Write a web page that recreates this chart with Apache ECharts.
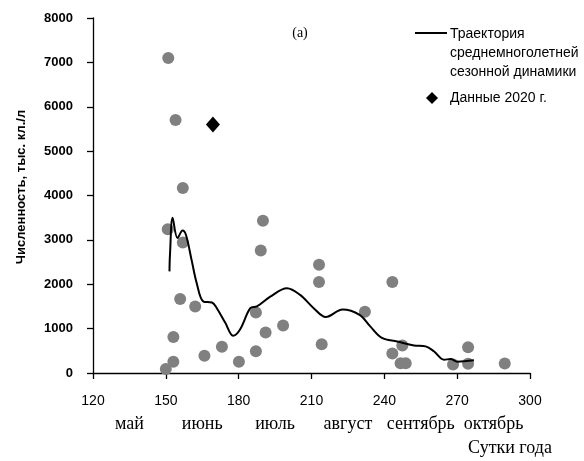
<!DOCTYPE html>
<html>
<head>
<meta charset="utf-8">
<script src="https://cdn.jsdelivr.net/npm/echarts@6/dist/echarts.min.js"></script>
<style>
  html, body { margin: 0; padding: 0; background: #fff; }
  #chart { width: 584px; height: 461px; }
</style>
</head>
<body>
<div id="chart"></div>
<script>
// Long-term mean seasonal trajectory (day of year -> abundance)
var trajDays = [151.5, 151.7, 152.8, 154.8, 156.9, 158.3, 160.6, 162.7, 165.5, 169.0, 171.0, 174.5, 177.7, 180.5, 184.8, 187.5, 193.0, 199.9, 205.3, 210.9, 215.9, 222.8, 229.8, 234.2, 239.0, 245.3, 252.2, 257.0, 260.4, 264.6, 267.3, 270.1, 276.9];
var trajValues = [2290, 2660, 3500, 3040, 3210, 3110, 2550, 2030, 1610, 1590, 1460, 1130, 840, 975, 1460, 1500, 1720, 1910, 1760, 1460, 1260, 1430, 1310, 1050, 790, 710, 620, 600, 490, 300, 315, 255, 285];

// Observations from previous years
var obsDays = [151, 154, 157, 150.8, 157, 155.9, 162.1, 153.1, 153.1, 150, 165.9, 173.1, 180.1, 187.1, 187.1, 191.1, 198.3, 190, 189.1, 213.1, 213.1, 214.2, 232, 243.3, 247.4, 243.3, 246.7, 248.8, 268.3, 274.5, 274.5, 289.6];
var obsValues = [7100, 5700, 4170, 3240, 2940, 1670, 1500, 810, 255, 90, 390, 590, 255, 490, 1365, 915, 1070, 3430, 2760, 2440, 2050, 650, 1380, 2050, 620, 440, 220, 220, 190, 210, 580, 215];

// 2020 data
var days2020 = [169.4];
var values2020 = [5600];

var months = ['май', 'июнь', 'июль', 'август', 'сентябрь', 'октябрь'];

var legendLine1 = 'Траектория\nсреднемноголетней\nсезонной динамики';
var legendLine2 = 'Данные 2020 г.';
var yTitle = 'Численность, тыс. кл./л';
var xTitle = 'Сутки года';

function zip(a, b) { return a.map(function (v, i) { return [v, b[i]]; }); }

var chart = echarts.init(document.getElementById('chart'), null, { renderer: 'canvas' });

var sans = '"Liberation Sans", Arial, sans-serif';
var serif = '"Liberation Serif", "Times New Roman", serif';

chart.setOption({
  animation: false,
  backgroundColor: '#ffffff',
  grid: { left: 93, right: 54, top: 18, bottom: 88, containLabel: false },
  xAxis: [
    {
      type: 'value', min: 120, max: 300, interval: 30,
      axisLine: { show: true, lineStyle: { color: '#000', width: 1.3 } },
      axisTick: { show: true, length: 6, lineStyle: { color: '#000', width: 1.3 } },
      axisLabel: { color: '#000', fontFamily: sans, fontSize: 14, margin: 21 },
      splitLine: { show: false }
    },
    {
      type: 'category', position: 'bottom', data: months, boundaryGap: true,
      axisLine: { show: false }, axisTick: { show: false },
      axisLabel: { color: '#000', fontFamily: serif, fontSize: 18, margin: 42, interval: 0 }
    }
  ],
  yAxis: {
    type: 'value', min: 0, max: 8000, interval: 1000,
    axisLine: { show: true, lineStyle: { color: '#000', width: 1.3 } },
    axisTick: { show: true, length: 6, lineStyle: { color: '#000', width: 1.3 } },
    axisLabel: {
      color: '#000', fontFamily: sans, fontSize: 13, fontWeight: 'bold', margin: 20,
      formatter: function (v) { return String(v); }
    },
    splitLine: { show: false }
  },
  series: [
    {
      name: 'obs', type: 'scatter', data: zip(obsDays, obsValues),
      symbol: 'circle', symbolSize: 12,
      itemStyle: { color: '#808080', opacity: 1 }, z: 2
    },
    {
      name: 'traj', type: 'line', data: zip(trajDays, trajValues),
      smooth: 0.35, showSymbol: false,
      lineStyle: { color: '#000', width: 2 }, z: 3
    },
    {
      name: '2020', type: 'scatter', data: zip(days2020, values2020),
      symbol: 'diamond', symbolSize: [14, 16],
      itemStyle: { color: '#000', opacity: 1 }, z: 4
    }
  ],
  graphic: [
    { type: 'text', x: 300, y: 33, style: { text: '(a)', font: '14px ' + serif, fill: '#000', align: 'center', verticalAlign: 'middle' } },
    { type: 'text', x: 21, y: 187, rotation: Math.PI / 2, style: { text: yTitle, font: 'bold 13px ' + sans, fill: '#000', align: 'center', verticalAlign: 'middle' } },
    { type: 'line', shape: { x1: 415, y1: 33, x2: 447, y2: 33 }, style: { stroke: '#000', lineWidth: 2 } },
    { type: 'text', x: 450, y: 24, style: { text: legendLine1, font: '14px ' + sans, fill: '#000', lineHeight: 19.3 } },
    { type: 'polygon', shape: { points: [[432, 92], [438, 98], [432, 104], [426, 98]] }, style: { fill: '#000' } },
    { type: 'text', x: 450, y: 98, style: { text: legendLine2, font: '14px ' + sans, fill: '#000', verticalAlign: 'middle' } },
    { type: 'text', x: 510, y: 448, style: { text: xTitle, font: '18px ' + serif, fill: '#000', align: 'center', verticalAlign: 'middle' } }
  ]
});
</script>
</body>
</html>
